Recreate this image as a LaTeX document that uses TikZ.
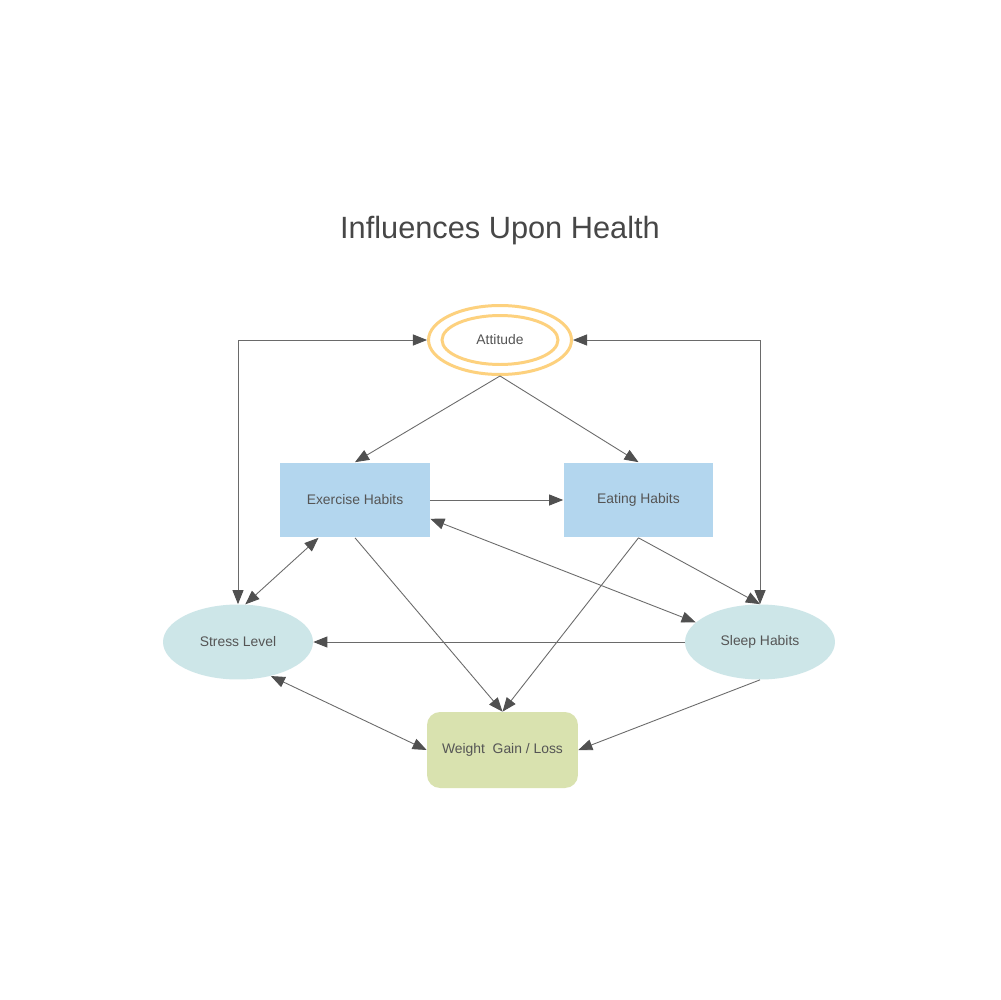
\documentclass[tikz,border=0pt]{standalone}
\usepackage{fontspec}
\setmainfont{Liberation Sans}
\usetikzlibrary{shapes.geometric,arrows.meta}
\definecolor{boxblue}{HTML}{B3D6EE}
\definecolor{ellteal}{HTML}{CDE6E8}
\definecolor{wtgreen}{HTML}{D9E2AF}
\definecolor{attorange}{HTML}{FDD17E}
\definecolor{txt}{HTML}{555555}
\definecolor{titlecol}{HTML}{474747}
\definecolor{linegray}{HTML}{6A6A6A}
\definecolor{tipgray}{HTML}{505050}
\begin{document}
\begin{tikzpicture}[x=0.02cm,y=-0.02cm,
  lbl/.style={font=\fontsize{7.9}{9}\selectfont, text=txt, inner sep=0pt},
  boxnode/.style={lbl, rectangle, fill=boxblue, minimum width=3cm, minimum height=1.5cm},
  ellnode/.style={lbl, ellipse, fill=ellteal, minimum width=3cm, minimum height=1.5cm},
  conn/.style={draw=linegray, line width=0.5pt, -{Triangle[length=8pt,width=6.3pt,color=tipgray]}},
  biconn/.style={draw=linegray, line width=0.5pt, {Triangle[length=8pt,width=6.3pt,color=tipgray]}-{Triangle[length=8pt,width=6.3pt,color=tipgray]}}]
\fill[white] (0,0) rectangle (1000,1000);
\useasboundingbox (0,0) rectangle (1000,1000);

\node[text=titlecol, font=\fontsize{17.5}{20}\selectfont] (title) at (500,231) {Influences Upon Health};

\node[lbl, ellipse, draw=attorange, line width=1.7pt, minimum width=2.86cm, minimum height=1.38cm] (att) at (500,340) {Attitude};
\draw[attorange, line width=1.7pt] (att.center) ellipse [x radius=1.16cm, y radius=0.49cm];

\node[boxnode] (ex) at (355,500) {Exercise Habits};
\node[boxnode] (eat) at (638.5,500) {Eating Habits};
\node[ellnode] (stress) at (238,642) {Stress Level};
\node[ellnode] (sleep) at (760,642) {Sleep Habits};
\node[lbl, rectangle, rounded corners=0.26cm, fill=wtgreen, minimum width=3.02cm, minimum height=1.52cm] (wt) at (502.5,750) {Weight\ \ Gain / Loss};

\draw[biconn] (stress.north) |- (att.west);
\draw[biconn] (att.east) -| (sleep.north);
\draw[conn] (att.south) -- (ex.north);
\draw[conn] (att.south) -- (eat.north);
\draw[conn] (ex.east) -- (eat.west);
\draw[biconn] (ex.-14) -- (sleep.163);
\draw[biconn] (ex.-134) -- (stress.79);
\draw[conn] (ex.south) -- (wt.north);
\draw[conn] (eat.south) -- (wt.north);
\draw[conn] (eat.south) -- (sleep.north);
\draw[conn] (sleep.west) -- (stress.east);
\draw[biconn] (stress.-46) -- (wt.west);
\draw[conn] (sleep.south) -- (wt.east);
\end{tikzpicture}
\end{document}
